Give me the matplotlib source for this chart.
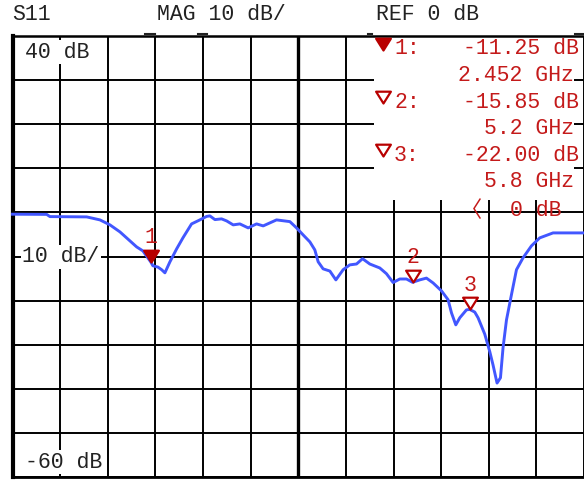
import matplotlib
matplotlib.use("Agg")
import matplotlib.pyplot as plt
from matplotlib.path import Path
from matplotlib.patches import Rectangle
from matplotlib.lines import Line2D
import numpy as np

# ---- data ----
freq_ghz = [1.000, 1.359, 1.393, 1.779, 1.918, 2.023, 2.128, 2.198, 2.303, 2.369,
            2.452, 2.474, 2.527, 2.566, 2.600, 2.653, 2.723, 2.789, 2.880, 2.967,
            3.038, 3.072, 3.125, 3.195, 3.248, 3.317, 3.387, 3.474, 3.562, 3.632,
            3.702, 3.772, 3.912, 3.982, 4.051, 4.122, 4.174, 4.209, 4.261, 4.332,
            4.395, 4.471, 4.541, 4.612, 4.675, 4.751, 4.856, 4.926, 4.996, 5.066,
            5.136, 5.200, 5.276, 5.346, 5.416, 5.504, 5.573, 5.609, 5.654, 5.696,
            5.766, 5.800, 5.853, 5.888, 5.958, 6.011, 6.045, 6.087, 6.123, 6.150,
            6.186, 6.238, 6.291, 6.360, 6.448, 6.535, 6.675, 7.000]
s11_db = [-0.41, -0.45, -0.95, -1.02, -1.70, -2.83, -4.42, -5.78, -7.82, -8.73,
          -11.25, -12.1, -12.4, -13.0, -13.7, -11.2, -8.28, -5.78, -2.61, -1.70,
          -0.91, -0.79, -1.63, -1.47, -1.93, -2.83, -2.61, -3.51, -2.61, -3.06,
          -2.38, -1.70, -2.09, -3.51, -5.10, -6.69, -8.50, -11.2, -12.8, -13.3,
          -15.3, -13.0, -11.9, -11.7, -10.5, -11.7, -12.6, -13.9, -15.9, -15.1,
          -15.1, -15.85, -15.3, -14.9, -16.0, -17.8, -19.8, -22.8, -25.5, -23.9,
          -22.1, -22.0, -22.6, -23.9, -27.6, -31.6, -34.6, -38.7, -37.5, -30.7,
          -24.4, -18.7, -13.0, -10.3, -7.60, -5.78, -4.65, -4.65]

marker_ids = ["1", "2", "3"]
marker_freqs = [2.452, 5.2, 5.8]
marker_db = [-11.25, -15.85, -22.00]
marker_filled = [True, False, False]

x_range = (1.0, 7.0)
y_range = (-60, 40)
x_step = 0.5
y_step = 10
ref_db = 0
scale_label = "10 dB/"
top_label = "40 dB"
bottom_label = "-60 dB"
param = "S11"
fmt_label = "MAG 10 dB/"
ref_label = "REF 0 dB"

# ---- style ----
W, H = 584, 480
RED = "#c41a1a"
MRED = "#b80000"
BLUE = "#4257ff"
FONT = ["Liberation Mono", "DejaVu Sans Mono", "DejaVu Sans"]
FS = 15.5

plt.rcParams["font.family"] = FONT

fig = plt.figure(figsize=(W / 100, H / 100), dpi=100)
fig.patch.set_facecolor("white")


def px(x, y):
    return (x / W, 1 - y / H)


ax = fig.add_axes([12.5 / W, 3 / H, (W - 12.5) / W, 441 / H])
ax.set_xlim(*x_range)
ax.set_ylim(*y_range)
ax.set_xticks(np.arange(x_range[0], x_range[1] + 1e-9, x_step))
ax.set_yticks(np.arange(y_range[0], y_range[1] + 1e-9, y_step))
ax.tick_params(length=0, labelbottom=False, labelleft=False)
ax.set_axisbelow(True)
ax.grid(True, color="black", lw=1.4)
ax.axvline((x_range[0] + x_range[1]) / 2, color="black", lw=2.4, zorder=0.6)
ax.spines["left"].set_linewidth(3.0)
ax.spines["top"].set_linewidth(1.8)
ax.spines["bottom"].set_linewidth(2.0)
ax.spines["right"].set_visible(False)

# white readout area
ax.add_patch(Rectangle((4.80, 2.8), 6.90 - 4.80, y_range[1] - 2.8,
                       fc="white", ec="none", zorder=1))

# trace
ax.plot(freq_ghz, s11_db, color=BLUE, lw=2.1, zorder=3, clip_on=False)

# marker shape: tip at the point, triangle above
tri = Path([(-1.25, 2.0), (1.25, 2.0), (0.0, 0.0), (-1.25, 2.0)],
           [Path.MOVETO, Path.LINETO, Path.LINETO, Path.CLOSEPOLY])
for mid, f, d, filled in zip(marker_ids, marker_freqs, marker_db, marker_filled):
    ax.plot([f], [d], marker=tri, ms=17, mec=MRED, mew=1.6,
            mfc=MRED if filled else "white", ls="none", zorder=4)
    ax.annotate(mid, (f, d), xytext=(0, 17.5), textcoords="offset points",
                ha="center", va="center", color=RED, fontsize=FS, zorder=5)

# left scale labels
box = dict(fc="white", ec="none", pad=1.0)
fig.text(*px(25, 52), top_label, ha="left", va="center", fontsize=FS,
         color="#222222", bbox=box, zorder=6)
fig.text(*px(22, 257), scale_label, ha="left", va="center", fontsize=FS,
         color="#222222", bbox=box, zorder=6)
fig.text(*px(25, 462), bottom_label, ha="left", va="center", fontsize=FS,
         color="#222222", bbox=box, zorder=6)

# header
fig.text(*px(12, 14), param, ha="left", va="center", fontsize=FS, color="#222222")
fig.text(*px(157, 14), fmt_label, ha="left", va="center", fontsize=FS, color="#222222")
fig.text(*px(376, 15), ref_label, ha="left", va="center", fontsize=FS, color="#222222")

# small tick marks above the grid
for x0, x1 in [(145, 155), (198, 207), (368, 372), (575, 584)]:
    fig.add_artist(Line2D([x0 / W, x1 / W], [1 - 34 / H, 1 - 34 / H],
                          color="#222222", lw=1.5))

# marker readout
row_y = [49, 102, 155]
for i, (mid, f, d, filled) in enumerate(zip(marker_ids, marker_freqs,
                                            marker_db, marker_filled)):
    y = row_y[i]
    tx, ty = px(383, y + 1)
    fig.add_artist(Line2D([tx], [ty], marker=tri, ms=17, mec=MRED, mew=1.6,
                          mfc=MRED if filled else "white", ls="none"))
    fig.text(*px(394, y), f"{mid}:", ha="left", va="center", fontsize=FS, color=RED)
    fig.text(*px(579, y), f"{d:.2f} dB", ha="right", va="center", fontsize=FS, color=RED)
    fig.text(*px(574, y + 26.5), f"{f:g} GHz", ha="right", va="center",
             fontsize=FS, color=RED)

fig.text(*px(471, 211), "\u3008", ha="center", va="center", fontsize=16,
         color=RED, family=["Noto Sans CJK SC", "DejaVu Sans"])
fig.text(*px(561, 211), f"{ref_db} dB", ha="right", va="center", fontsize=FS, color=RED)

fig.savefig("out.png", dpi=100, facecolor="white")
